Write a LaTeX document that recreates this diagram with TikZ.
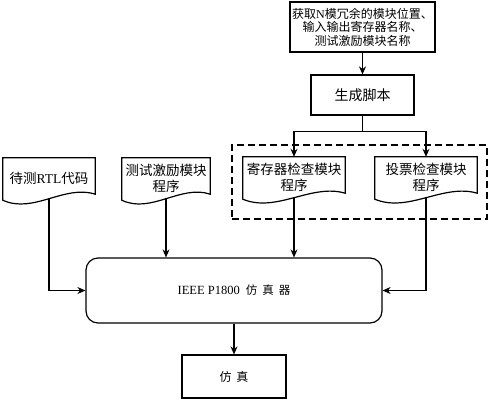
\documentclass[tikz,border=0pt]{standalone}
\usepackage{fontspec}
\newfontfamily\cjk{Noto Sans CJK SC}
\newfontfamily\lat{Liberation Serif}
\usetikzlibrary{arrows.meta,positioning,fit,calc}

\tikzset{
	box/.style={draw,line width=1.2pt,align=center,inner sep=0pt,font=\cjk\fontsize{13.5}{16}\selectfont},
	doc/.style={align=center,inner sep=0pt,minimum height=40pt,font=\cjk\fontsize{13.5}{16}\selectfont},
	grpbox/.style={draw,dashed,dash pattern=on 7pt off 4pt,line width=1.2pt,inner sep=0pt},
	arr/.style={-{Stealth[length=8pt,width=7pt]},line width=1.1pt}
}

\begin{document}
\begin{tikzpicture}[x=1pt,y=-1pt]
	\useasboundingbox[fill=white] (0,0) rectangle (490,400);
	% top boxes
	\node[box,minimum width=145pt,minimum height=50pt,font=\cjk\fontsize{12}{13.5}\selectfont] (info) at (362.5,27) {获取{\lat N}模冗余的模块位置、\\输入输出寄存器名称、\\测试激励模块名称};
	\node[box,minimum width=103pt,minimum height=40pt,font=\cjk\fontsize{14}{16}\selectfont] (gen) at (362.5,95) {生成脚本};
	% documents
	\node[doc,minimum width=92pt] (rtl) at (49,178) {待测{\lat RTL}代码};
	\node[doc,minimum width=88pt] (stim) at (166,178) {测试激励模块\\程序};
	\node[doc,minimum width=102pt] (reg) at (294,177) {寄存器检查模块\\程序};
	\node[doc,minimum width=102pt] (vote) at (426,177) {投票检查模块\\程序};
	\foreach \d in {rtl,stim,reg,vote}
		\draw[line width=1.2pt] (\d.north west) -- (\d.north east) -- ($(\d.south east)+(0,-4)$)
			.. controls ($(\d.south west)!.67!(\d.south east)+(0,-14)$) and ($(\d.south west)!.33!(\d.south east)+(0,16)$) .. ($(\d.south west)+(0,2)$) -- cycle;
	\node[grpbox,fit={(232,145) (487,219)}] (grp) {};
	% simulator and output
	\node[box,rounded corners=12pt,minimum width=296pt,minimum height=65pt,font=\cjk\fontsize{11.5}{14}\selectfont] (sim) at (234,290.5) {{\lat\fontsize{12.5}{14}\selectfont IEEE P1800}\hspace{6pt}仿\hspace{5pt}真\hspace{5pt}器};
	\node[box,minimum width=104pt,minimum height=43pt,font=\cjk\fontsize{12}{14}\selectfont] (out) at (234,376.5) {仿\hspace{5pt}真};
	% connectors
	\draw[arr] (info) -- (gen);
	\draw[arr] (gen.south) -- ++(0,16) -| (reg.north);
	\draw[arr] (gen.south) -- ++(0,16) -| (vote.north);
	\draw[arr] (rtl.south) |- (sim.west);
	\draw[arr] (stim.south) -- (stim.south |- sim.north);
	\draw[arr] (reg.south) -- (reg.south |- sim.north);
	\draw[arr] (vote.south) |- (sim.east);
	\draw[arr] (sim) -- (out);
\end{tikzpicture}
\end{document}
